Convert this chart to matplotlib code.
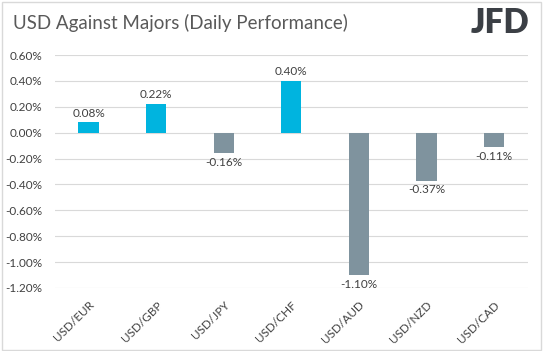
import matplotlib
matplotlib.use("Agg")
import matplotlib.pyplot as plt
from matplotlib.patches import Rectangle

plt.rcParams['font.family'] = ['Lato', 'DejaVu Sans']

# data
pairs = ['USD/EUR', 'USD/GBP', 'USD/JPY', 'USD/CHF', 'USD/AUD', 'USD/NZD', 'USD/CAD']
changes = [0.08, 0.22, -0.16, 0.40, -1.10, -0.37, -0.11]
yticks = [0.6, 0.4, 0.2, 0.0, -0.2, -0.4, -0.6, -0.8, -1.0, -1.2]

pos_color = '#00B4DF'
neg_color = '#7F939E'
txt_color = '#404040'

fig = plt.figure(figsize=(5.43, 3.51), dpi=100)
fig.patches.append(Rectangle((0.004, 0.004), 0.992, 0.99, transform=fig.transFigure,
                             fill=False, edgecolor='#D9D9D9', lw=1))

ax = fig.add_axes([0.101, 0.1795, 0.871, 0.6635])
x = range(len(pairs))
colors = [pos_color if v >= 0 else neg_color for v in changes]
bars = ax.bar(x, changes, width=0.3, color=colors, zorder=3)

for xi, v in zip(x, changes):
    if v >= 0:
        ax.text(xi, v + 0.03, f'{v:.2f}%', ha='center', va='bottom', fontsize=8.5, color=txt_color)
    else:
        ax.text(xi, v - 0.03, f'{v:.2f}%', ha='center', va='top', fontsize=8.5, color=txt_color)

ax.set_ylim(-1.2, 0.6)
ax.set_xlim(-0.5, len(pairs) - 0.5)
ax.set_yticks(yticks)
ax.set_yticklabels([f'{t:.2f}%' for t in yticks], fontsize=8.5, color=txt_color)
ax.yaxis.grid(True, color='#D9D9D9', lw=0.8, zorder=0)
ax.set_xticks(list(x))
ax.set_xticklabels(pairs, rotation=45, ha='right', rotation_mode='anchor',
                   fontsize=8.5, color=txt_color)
ax.tick_params(axis='both', length=0)
ax.tick_params(axis='x', pad=8)
ax.tick_params(axis='y', pad=9)
for s in ax.spines.values():
    s.set_visible(False)

fig.text(0.024, 0.935, 'USD Against Majors (Daily Performance)', fontsize=13.5,
         color='#595959', va='center', ha='left')
fig.text(0.975, 0.935, 'JFD', fontsize=24, fontweight='heavy', color='#3B3F45',
         va='center', ha='right')

fig.savefig('out.png', dpi=100)
